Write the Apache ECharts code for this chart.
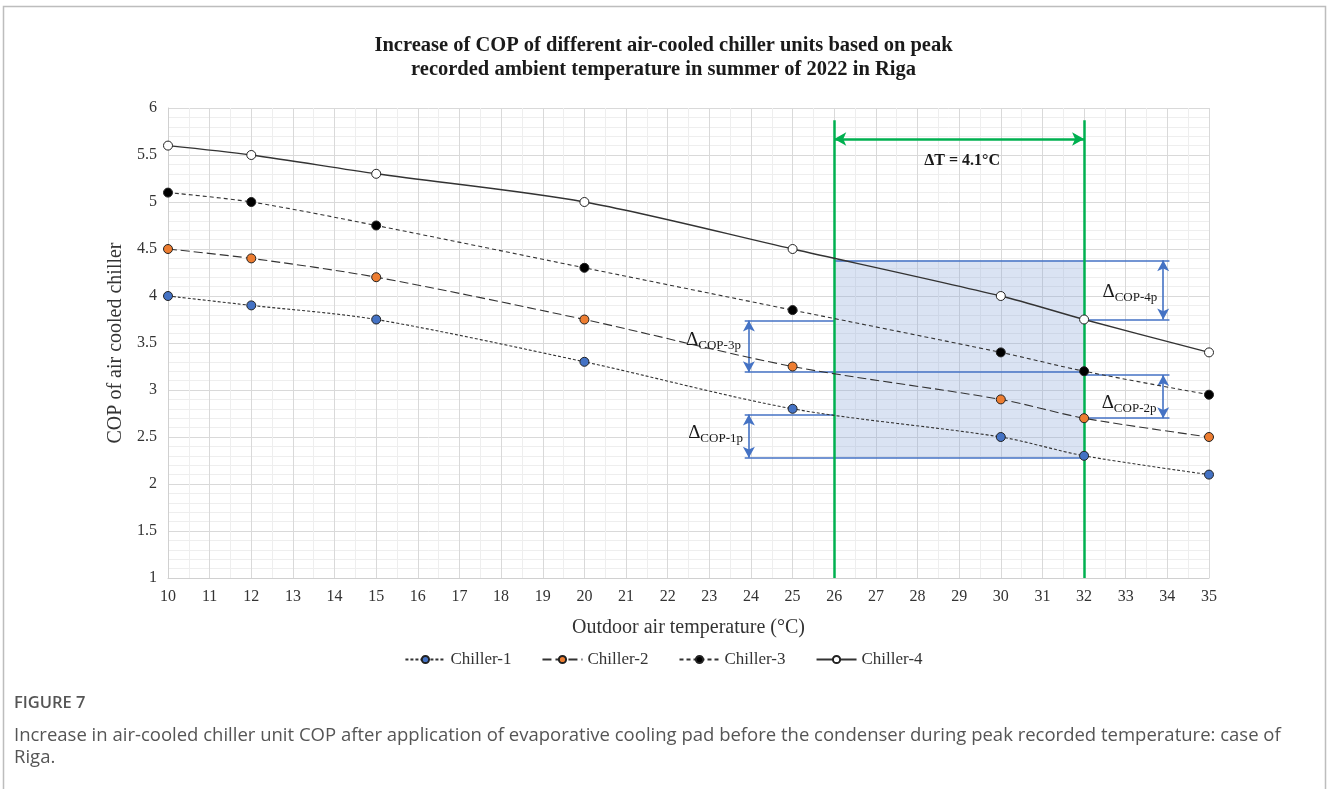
<!DOCTYPE html>
<html>
<head>
<meta charset="utf-8">
<title>COP of air-cooled chillers - Riga</title>
<script src="https://cdn.jsdelivr.net/npm/echarts@6/dist/echarts.min.js"></script>
<style>
  html, body { margin: 0; padding: 0; background: #fff; }
  #chart { width: 1327px; height: 789px; }
</style>
</head>
<body>
<div id="chart"></div>
<script>
// outdoor air temperature (°C) of each measured point
var temps = [10, 12, 15, 20, 25, 30, 32, 35];

// COP of each chiller unit at those temperatures
var chiller1 = [4.0, 3.9, 3.75, 3.3, 2.8, 2.5, 2.3, 2.1];
var chiller2 = [4.5, 4.4, 4.2, 3.75, 3.25, 2.9, 2.7, 2.5];
var chiller3 = [5.1, 5.0, 4.75, 4.3, 3.85, 3.4, 3.2, 2.95];
var chiller4 = [5.6, 5.5, 5.3, 5.0, 4.5, 4.0, 3.75, 3.4];

var seriesNames = ['Chiller-1', 'Chiller-2', 'Chiller-3', 'Chiller-4'];

// annotation: temperature band (ambient peak -> cooled air)
var bandTemps = [26, 32];
var bandTop = 5.87;        // top of the green markers
var deltaTArrowY = 5.67;
var deltaTLabel = ['ΔT = 4.1°C', 29.07, 5.44];

// shaded area of COP gain
var areaCop = [4.38, 2.28];

// COP gain brackets
var leftLineX = 23.85, leftArrowX = 23.95;
var rightLineX = 34.05, rightArrowX = 33.9;
var copLevels = {
  c4top: 4.38, c4bot: 3.75,
  c3top: 3.74, c3bot: 3.19,
  c2top: 3.16, c2bot: 2.70,
  c1top: 2.74, c1bot: 2.28
};
// labels: [sub text, x, y]
var deltaLabels = [
  ['COP-4p', 33.1, 4.04],
  ['COP-2p', 33.08, 2.86],
  ['COP-3p', 23.1, 3.53],
  ['COP-1p', 23.15, 2.54]
];

var serif = '"Liberation Serif", "DejaVu Serif", serif';
var lineColor = '#333333';
var blue = '#4472C4';
var green = '#00B050';

function pairs(values) {
    return temps.map(function (t, i) { return [t, values[i]]; });
}

function seg(x1, y1, x2, y2, arrow) {
    var s = arrow ? 'arrow' : 'none';
    return [
        { coord: [x1, y1], symbol: s },
        { coord: [x2, y2], symbol: s }
    ];
}

var chart = echarts.init(document.getElementById('chart'));

var blueLines = [
    seg(bandTemps[0], copLevels.c4top, rightLineX, copLevels.c4top, false),
    seg(bandTemps[1], copLevels.c4bot, rightLineX, copLevels.c4bot, false),
    seg(rightArrowX, copLevels.c4top, rightArrowX, copLevels.c4bot, true),
    seg(leftLineX, copLevels.c3top, bandTemps[0], copLevels.c3top, false),
    seg(leftLineX, copLevels.c3bot, bandTemps[1], copLevels.c3bot, false),
    seg(leftArrowX, copLevels.c3top, leftArrowX, copLevels.c3bot, true),
    seg(bandTemps[1], copLevels.c2top, rightLineX, copLevels.c2top, false),
    seg(bandTemps[1], copLevels.c2bot, rightLineX, copLevels.c2bot, false),
    seg(rightArrowX, copLevels.c2top, rightArrowX, copLevels.c2bot, true),
    seg(leftLineX, copLevels.c1top, bandTemps[0], copLevels.c1top, false),
    seg(leftLineX, copLevels.c1bot, bandTemps[1], copLevels.c1bot, false),
    seg(leftArrowX, copLevels.c1top, leftArrowX, copLevels.c1bot, true)
];

var greenLines = [
    seg(bandTemps[0], bandTop, bandTemps[0], 1, false),
    seg(bandTemps[1], bandTop, bandTemps[1], 1, false),
    seg(bandTemps[0], deltaTArrowY, bandTemps[1], deltaTArrowY, true)
];

var textPoints = deltaLabels.map(function (d) {
    return {
        coord: [d[1], d[2]],
        label: { formatter: '{d|Δ}{s|' + d[0] + '}' }
    };
});
textPoints.push({
    coord: [deltaTLabel[1], deltaTLabel[2]],
    label: { formatter: '{t|' + deltaTLabel[0] + '}' }
});

function lineSeries(name, values, dash, fill, width) {
    return {
        name: name,
        type: 'line',
        data: pairs(values),
        smooth: 0.3,
        symbol: 'circle',
        symbolSize: 9,
        z: 5,
        lineStyle: { color: lineColor, width: width, type: dash },
        itemStyle: { color: fill, borderColor: '#222', borderWidth: 1 }
    };
}

var options = {
    animation: false,
    title: {
        text: 'Increase of COP of different air-cooled chiller units based on peak\nrecorded ambient temperature in summer of 2022 in Riga',
        left: 'center',
        top: 29,
        textStyle: {
            fontFamily: serif,
            fontWeight: 'bold',
            fontSize: 20.5,
            lineHeight: 24,
            color: '#1a1a1a'
        }
    },
    legend: {
        data: seriesNames,
        bottom: 116,
        left: 'center',
        itemWidth: 40,
        itemHeight: 9,
        itemGap: 30,
        textStyle: { fontFamily: serif, fontSize: 17, color: '#333' }
    },
    grid: { left: 168, right: 118, top: 108, bottom: 211 },
    xAxis: {
        type: 'value',
        min: 10,
        max: 35,
        interval: 1,
        name: 'Outdoor air temperature (°C)',
        nameLocation: 'middle',
        nameGap: 40,
        nameTextStyle: { fontFamily: serif, fontSize: 20, color: '#333' },
        axisLine: { show: true, lineStyle: { color: '#d0d0d0' } },
        axisTick: { show: false },
        axisLabel: { fontFamily: serif, fontSize: 16, color: '#333', margin: 11 },
        splitLine: { show: true, lineStyle: { color: '#d9d9d9' } },
        minorTick: { show: false, splitNumber: 2 },
        minorSplitLine: { show: true, lineStyle: { color: '#eeeeee' } }
    },
    yAxis: {
        type: 'value',
        min: 1,
        max: 6,
        interval: 0.5,
        name: 'COP of air cooled chiller',
        nameLocation: 'middle',
        nameGap: 42,
        nameTextStyle: { fontFamily: serif, fontSize: 20, color: '#333' },
        axisLine: { show: true, lineStyle: { color: '#d0d0d0' } },
        axisTick: { show: false },
        axisLabel: { fontFamily: serif, fontSize: 16, color: '#333', margin: 11 },
        splitLine: { show: true, lineStyle: { color: '#d9d9d9' } },
        minorTick: { show: false, splitNumber: 5 },
        minorSplitLine: { show: true, lineStyle: { color: '#eeeeee' } }
    },
    series: [
        lineSeries('Chiller-1', chiller1, [3, 2], '#4472C4', 1.1),
        lineSeries('Chiller-2', chiller2, [9, 4], '#ED7D31', 1.1),
        lineSeries('Chiller-3', chiller3, [4, 3], '#000000', 1.1),
        lineSeries('Chiller-4', chiller4, 'solid', '#ffffff', 1.4),
        {
            name: 'annotations',
            type: 'line',
            data: [],
            z: 3,
            markArea: {
                silent: true,
                itemStyle: { color: 'rgba(143, 170, 220, 0.33)' },
                data: [[
                    { coord: [bandTemps[0], areaCop[0]] },
                    { coord: [bandTemps[1], areaCop[1]] }
                ]]
            },
            markLine: {
                silent: true,
                symbolSize: [9, 11],
                label: { show: false },
                lineStyle: { color: blue, width: 1.6, type: 'solid' },
                data: blueLines
            }
        },
        {
            name: 'band',
            type: 'line',
            data: [],
            z: 6,
            markLine: {
                silent: true,
                symbolSize: [10, 12],
                label: { show: false },
                lineStyle: { color: green, width: 2.5, type: 'solid' },
                data: greenLines
            },
            markPoint: {
                silent: true,
                symbol: 'circle',
                symbolSize: 1,
                itemStyle: { color: 'rgba(0,0,0,0)' },
                label: {
                    show: true,
                    position: 'inside',
                    color: '#1a1a1a',
                    rich: {
                        d: { fontFamily: serif, fontSize: 19, color: '#1a1a1a' },
                        s: { fontFamily: serif, fontSize: 13, color: '#1a1a1a', padding: [10, 0, 0, 0] },
                        t: { fontFamily: serif, fontSize: 16, fontWeight: 'bold', color: '#1a1a1a' }
                    }
                },
                data: textPoints
            }
        }
    ],
    graphic: [
        {
            type: 'rect',
            shape: { x: 3.5, y: 6.5, width: 1322, height: 800 },
            style: { fill: null, stroke: '#bdbdbd', lineWidth: 1.5 },
            silent: true
        },
        {
            type: 'text',
            left: 14,
            top: 695,
            style: {
                text: 'FIGURE 7',
                font: '600 16.5px "Open Sans", sans-serif',
                fill: '#555'
            }
        },
        {
            type: 'text',
            left: 14,
            top: 725,
            style: {
                text: 'Increase in air-cooled chiller unit COP after application of evaporative cooling pad before the condenser during peak recorded temperature: case of\nRiga.',
                font: '18.5px "Open Sans", sans-serif',
                lineHeight: 22,
                fill: '#555'
            }
        }
    ]
};

chart.setOption(options);
</script>
</body>
</html>
